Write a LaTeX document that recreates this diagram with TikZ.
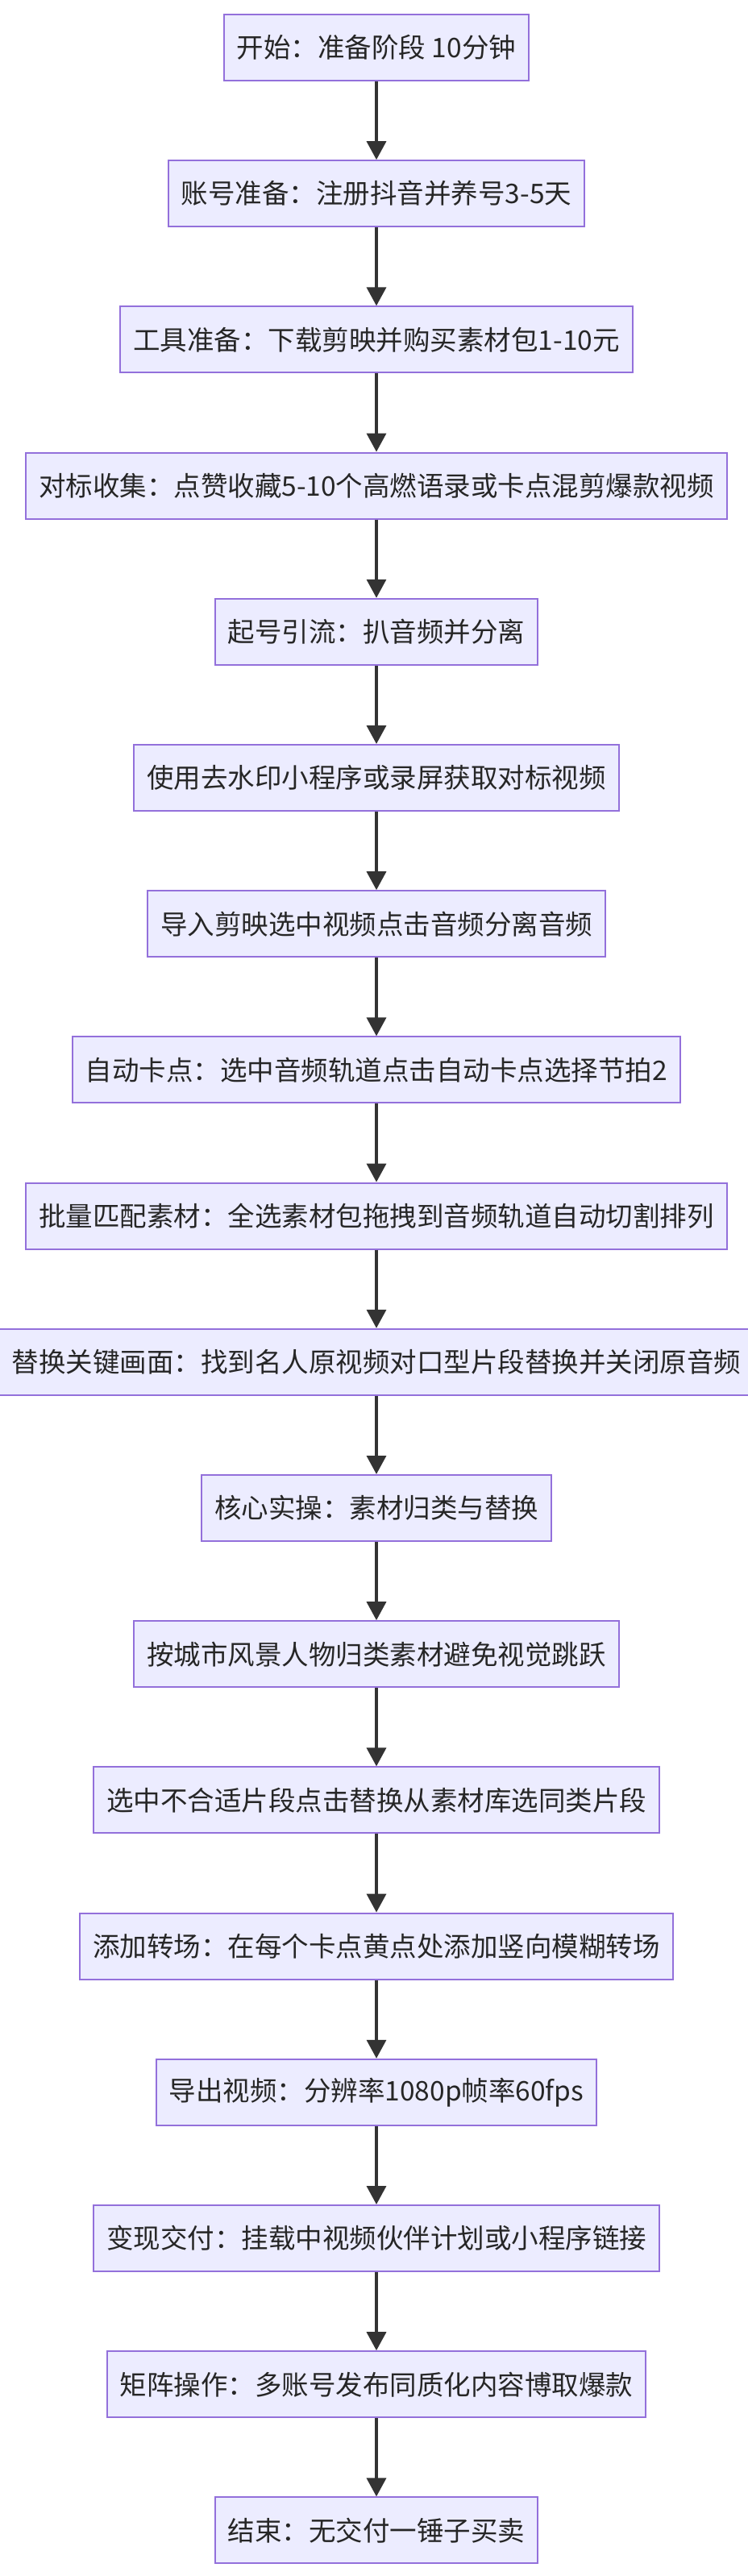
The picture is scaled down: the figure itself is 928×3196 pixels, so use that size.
\documentclass[tikz,border=0pt]{standalone}
\usepackage{fontspec}
\newfontfamily\cjk{Noto Sans CJK SC}
\usetikzlibrary{arrows.meta}
\definecolor{bfill}{HTML}{ECECFF}
\definecolor{bdraw}{HTML}{9370DB}
\definecolor{arr}{HTML}{333333}
\begin{document}
\begin{tikzpicture}[x=1pt,y=-1pt,
  stepbox/.style={draw=bdraw,fill=bfill,line width=2pt,minimum height=82pt,inner xsep=16pt,font=\cjk\fontsize{33.5}{38}\selectfont,text=black!85},
  link/.style={draw=arr,line width=3.5pt,-{Triangle[length=23pt,width=24pt]}}]
\useasboundingbox (0,0) rectangle (928,3196);
\def\P{181.2}
\foreach \i/\t in {0/开始：准备阶段 10分钟,1/账号准备：注册抖音并养号3-5天,2/工具准备：下载剪映并购买素材包1-10元,3/对标收集：点赞收藏5-10个高燃语录或卡点混剪爆款视频,4/起号引流：扒音频并分离,5/使用去水印小程序或录屏获取对标视频,6/导入剪映选中视频点击音频分离音频,7/自动卡点：选中音频轨道点击自动卡点选择节拍2,8/批量匹配素材：全选素材包拖拽到音频轨道自动切割排列,9/替换关键画面：找到名人原视频对口型片段替换并关闭原音频,10/核心实操：素材归类与替换,11/按城市风景人物归类素材避免视觉跳跃,12/选中不合适片段点击替换从素材库选同类片段,13/添加转场：在每个卡点黄点处添加竖向模糊转场,14/导出视频：分辨率1080p帧率60fps,15/变现交付：挂载中视频伙伴计划或小程序链接,16/矩阵操作：多账号发布同质化内容博取爆款,17/结束：无交付一锤子买卖}
  \node[stepbox] (n\i) at (467,59+\i*\P) {\t};
\foreach \i [evaluate=\i as \j using int(\i+1)] in {0,...,16}
  \draw[link] (n\i) -- (n\j);
\end{tikzpicture}
\end{document}
